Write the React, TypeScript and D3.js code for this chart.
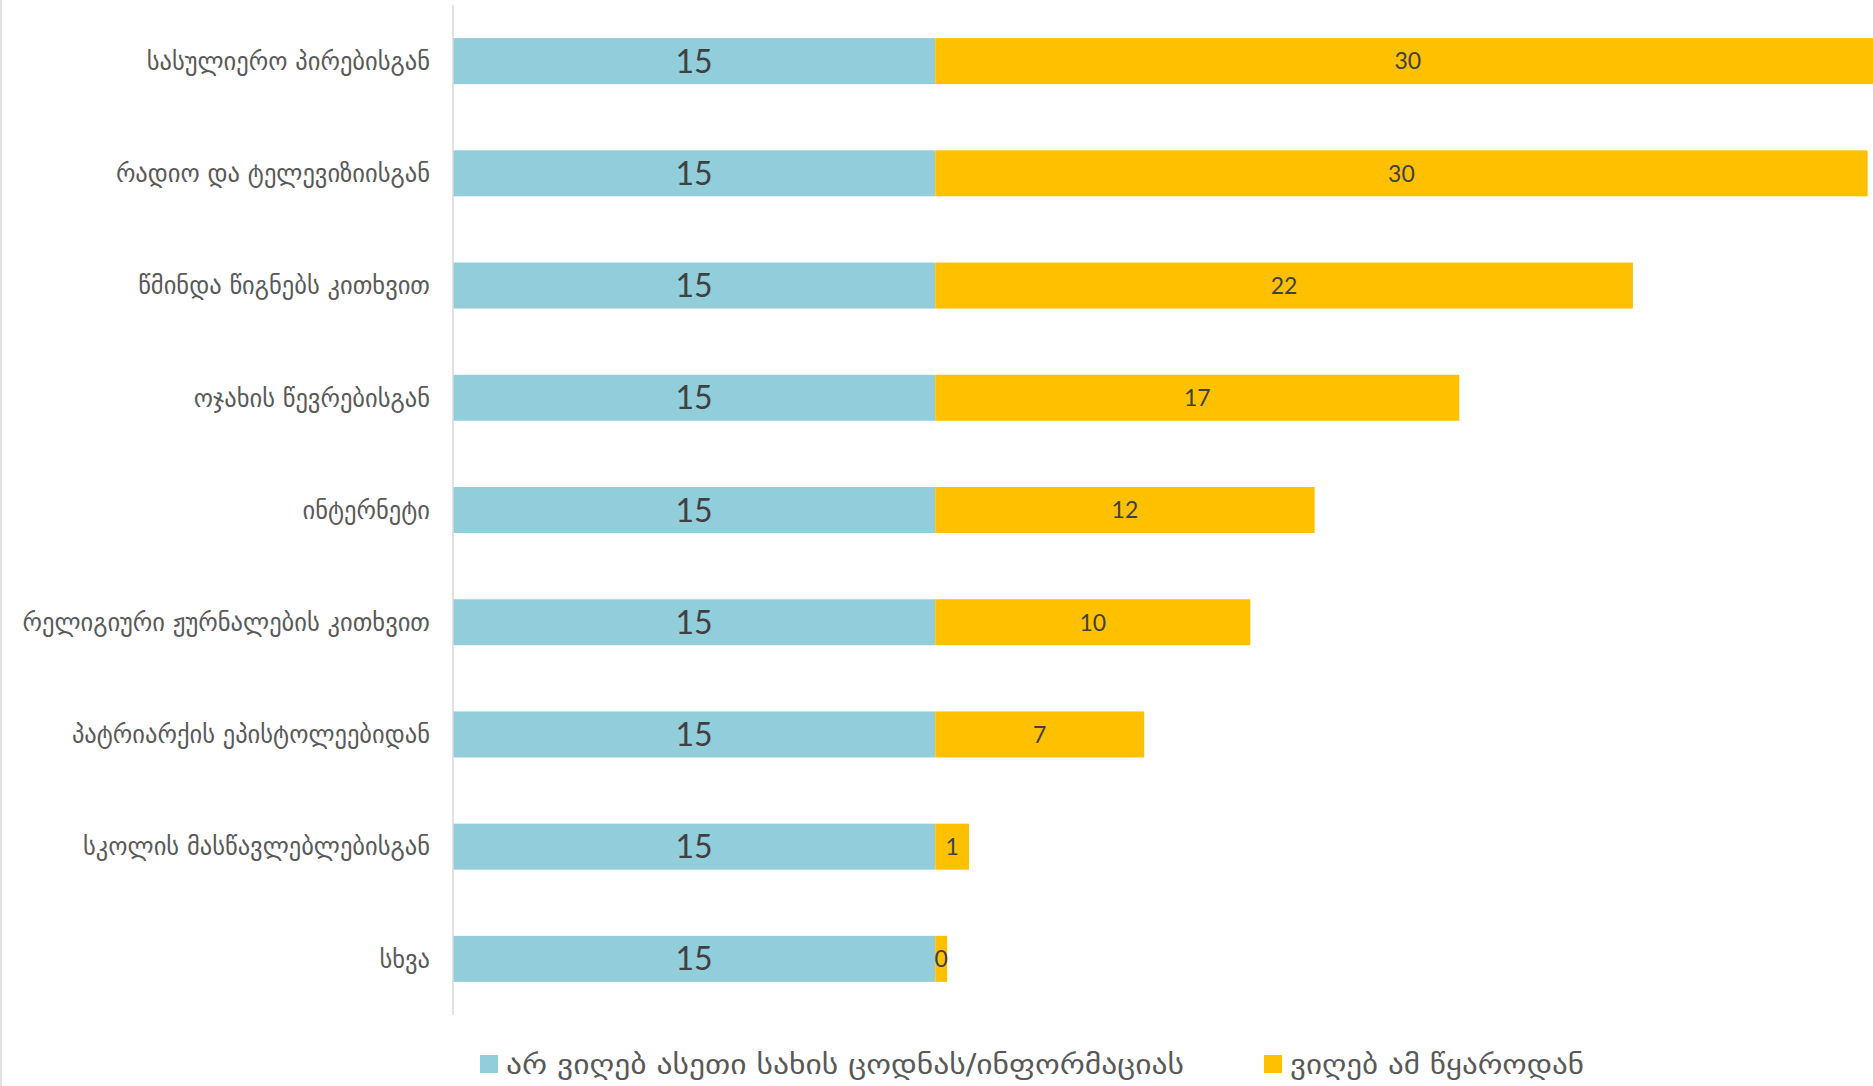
import React from 'react';
import * as d3 from 'd3';

// categories, top to bottom
const categories = [
  'სასულიერო პირებისგან',
  'რადიო და ტელევიზიისგან',
  'წმინდა წიგნებს კითხვით',
  'ოჯახის წევრებისგან',
  'ინტერნეტი',
  'რელიგიური ჟურნალების კითხვით',
  'პატრიარქის ეპისტოლეებიდან',
  'სკოლის მასწავლებლებისგან',
  'სხვა'
];

// bar lengths
const notReceived = [15, 15, 15, 15, 15, 15, 15, 15, 15];
const fromSource = [29.4, 29.0, 21.7, 16.3, 11.8, 9.8, 6.5, 1.05, 0.37];

// data labels as printed on the bars
const notReceivedLabels = ['15', '15', '15', '15', '15', '15', '15', '15', '15'];
const fromSourceLabels = ['30', '30', '22', '17', '12', '10', '7', '1', '0'];

const seriesNames = ['არ ვიღებ ასეთი სახის ცოდნას/ინფორმაციას', 'ვიღებ ამ წყაროდან'];
const seriesColors = ['#92CDDC', '#FFC000'];

const W = 1873;
const H = 1086;
const geo = '"DejaVu Sans", "Noto Sans", sans-serif';
const num = 'Lato, "Open Sans", sans-serif';

const App: React.FC = () => {
  const y = d3.scaleBand<string>()
    .domain(categories)
    .range([5, 1015])
    .paddingInner(0.59)
    .paddingOuter(0.295);

  const x = d3.scaleLinear().domain([0, 45]).range([453, 453 + 45 * 32.15]);
  const bw = y.bandwidth();

  return (
    <div style={{ position: 'absolute', left: 0, top: 0 }}>
      <svg width={W} height={H} style={{ display: 'block', background: '#fff' }}>
        <line x1={1} x2={1} y1={0} y2={H} stroke="#d9d9d9" strokeWidth={1.5} />

        {categories.map((c, i) => {
          const yy = y(c) || 0;
          const x0 = x(0);
          const x1 = x(notReceived[i]);
          const x2 = x(notReceived[i] + fromSource[i]);
          return (
            <g key={c}>
              <rect x={x0} y={yy} width={x1 - x0} height={bw} fill={seriesColors[0]} />
              <rect x={x1} y={yy} width={x2 - x1} height={bw} fill={seriesColors[1]} />
              <text x={(x0 + x1) / 2} y={yy + bw / 2} dy="0.36em" textAnchor="middle"
                fontFamily={num} fontSize={32} fill="#404040">{notReceivedLabels[i]}</text>
              <text x={(x1 + x2) / 2} y={yy + bw / 2} dy="0.36em" textAnchor="middle"
                fontFamily={num} fontSize={23} fill="#404040">{fromSourceLabels[i]}</text>
              <text x={430} y={yy + bw / 2} dy="0.36em" textAnchor="end"
                fontFamily={geo} fontSize={24.5} fill="#595959">{c}</text>
            </g>
          );
        })}

        <line x1={x(0)} x2={x(0)} y1={5} y2={1015} stroke="#d9d9d9" strokeWidth={1.5} />

        {/* legend */}
        <rect x={480} y={1055} width={18} height={18} fill={seriesColors[0]} />
        <text x={506} y={1064} dy="0.36em" fontFamily={geo} fontSize={28} fill="#595959"
          textLength={678} lengthAdjust="spacingAndGlyphs">{seriesNames[0]}</text>
        <rect x={1264} y={1055} width={18} height={18} fill={seriesColors[1]} />
        <text x={1290} y={1064} dy="0.36em" fontFamily={geo} fontSize={28} fill="#595959"
          textLength={294} lengthAdjust="spacingAndGlyphs">{seriesNames[1]}</text>
      </svg>
    </div>
  );
};

export default App;
